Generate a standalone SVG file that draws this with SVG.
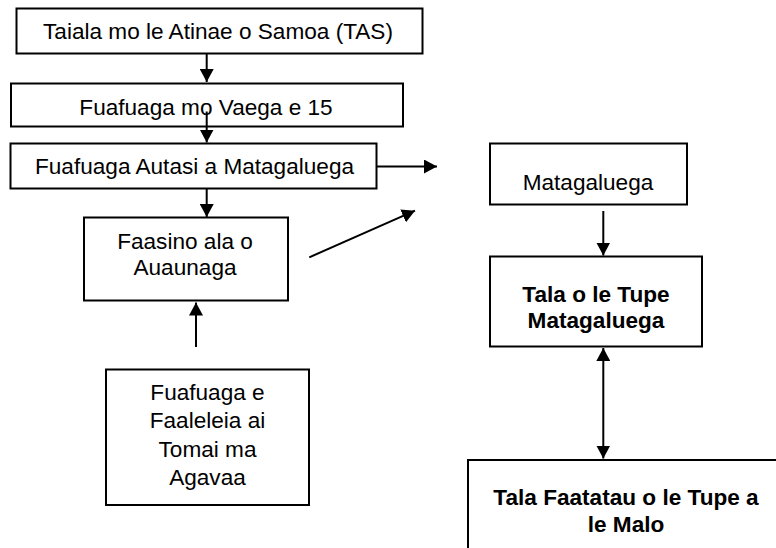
<svg xmlns="http://www.w3.org/2000/svg" width="776" height="548" viewBox="0 0 776 548">
<defs>
<style>
.box{fill:#fff;stroke:#000;stroke-width:2}
.t{font-family:"Liberation Sans",Arial,sans-serif;font-size:22.6px;fill:#000;text-anchor:middle}
.b{font-weight:bold}
.c{stroke:#000;stroke-width:2;fill:none}
</style>
<marker id="ah" viewBox="0 0 13 14" refX="13" refY="7" markerWidth="13" markerHeight="14" markerUnits="userSpaceOnUse" orient="auto-start-reverse">
<path d="M0,0 L13,7 L0,14 Z" fill="#000"/>
</marker>
</defs>
<rect width="776" height="548" fill="#fff"/>
<g id="n1"><rect class="box" x="16.5" y="8.5" width="406" height="45"/><text class="t" x="218" y="38.5">Taiala mo le Atinae o Samoa (TAS)</text></g>
<g id="n2"><rect class="box" x="11" y="83.5" width="392" height="43"/><text class="t" x="206" y="114.5">Fuafuaga mo Vaega e 15</text></g>
<g id="n3"><rect class="box" x="10.5" y="143.5" width="366" height="45"/><text class="t" x="194.5" y="173.5">Fuafuaga Autasi a Matagaluega</text></g>
<g id="n4"><rect class="box" x="84" y="217.5" width="204" height="83"/><text class="t" x="185" y="248.5">Faasino ala o</text><text class="t" x="185" y="275">Auaunaga</text></g>
<g id="n5"><rect class="box" x="106" y="369.5" width="203" height="135.5"/><text class="t" x="207.5" y="400">Fuafuaga e</text><text class="t" x="207.5" y="428.3">Faaleleia ai</text><text class="t" x="207.5" y="456.7">Tomai ma</text><text class="t" x="207.5" y="485">Agavaa</text></g>
<g id="n6"><rect class="box" x="490" y="143.5" width="197" height="61"/><text class="t" x="588" y="190">Matagaluega</text></g>
<g id="n7"><rect class="box" x="490" y="256.5" width="212" height="90"/><text class="t b" x="596" y="301.7">Tala o le Tupe</text><text class="t b" x="596" y="328.3">Matagaluega</text></g>
<g id="n8"><rect class="box" x="468" y="460" width="316" height="100"/><text class="t b" x="626" y="505">Tala Faatatau o le Tupe a</text><text class="t b" x="626" y="531.7">le Malo</text></g>
<g id="connectors">
<line class="c" x1="206.7" y1="53.5" x2="206.7" y2="82" marker-end="url(#ah)"/>
<line class="c" x1="206.7" y1="111.5" x2="206.7" y2="142.5" marker-end="url(#ah)"/>
<line class="c" x1="377" y1="166.5" x2="437" y2="166.5" marker-end="url(#ah)"/>
<line class="c" x1="206.7" y1="188.5" x2="206.7" y2="217" marker-end="url(#ah)"/>
<line class="c" x1="196" y1="347" x2="196" y2="302.5" marker-end="url(#ah)"/>
<line class="c" x1="309.3" y1="257.3" x2="415" y2="210.7" marker-end="url(#ah)"/>
<line class="c" x1="603.3" y1="211" x2="603.3" y2="255.5" marker-end="url(#ah)"/>
<line class="c" x1="603.3" y1="348" x2="603.3" y2="458.5" marker-start="url(#ah)" marker-end="url(#ah)"/>
</g>
</svg>
